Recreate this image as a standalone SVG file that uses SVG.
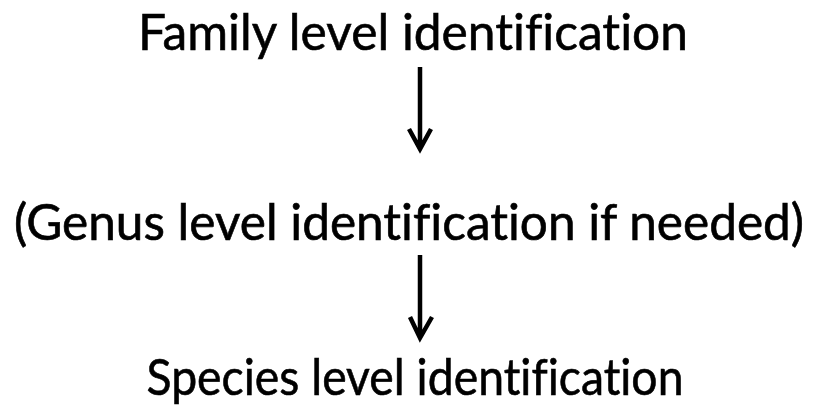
<svg xmlns="http://www.w3.org/2000/svg" width="818" height="414" viewBox="0 0 818 414">
<style>
.t{font-family:Lato,"Open Sans","Liberation Sans",sans-serif;font-size:51px;fill:#000;font-variant-ligatures:none;font-feature-settings:"liga" 0;stroke:#000;stroke-width:0.6}
.c{stroke:#000;stroke-width:4.5;fill:none;stroke-linecap:butt}
</style>
<rect width="818" height="414" fill="#fff"/>
<g id="n1"><text class="t" x="413" y="50" text-anchor="middle" textLength="550" lengthAdjust="spacingAndGlyphs">Family level identification</text></g>
<g id="n2"><text class="t" transform="translate(409 240) scale(1 1.07)" x="0" y="0" style="font-size:47.5px" text-anchor="middle" textLength="790" lengthAdjust="spacingAndGlyphs">(Genus level identification if needed)</text></g>
<g id="n3"><text class="t" x="415" y="395" text-anchor="middle" textLength="537" lengthAdjust="spacingAndGlyphs">Species level identification</text></g>
<g id="connectors">
<path class="c" d="M420 67V148M409 129L420 149L431 129"/>
<path class="c" d="M420 255V337M410 317L420 338L432 317"/>
</g>
</svg>
